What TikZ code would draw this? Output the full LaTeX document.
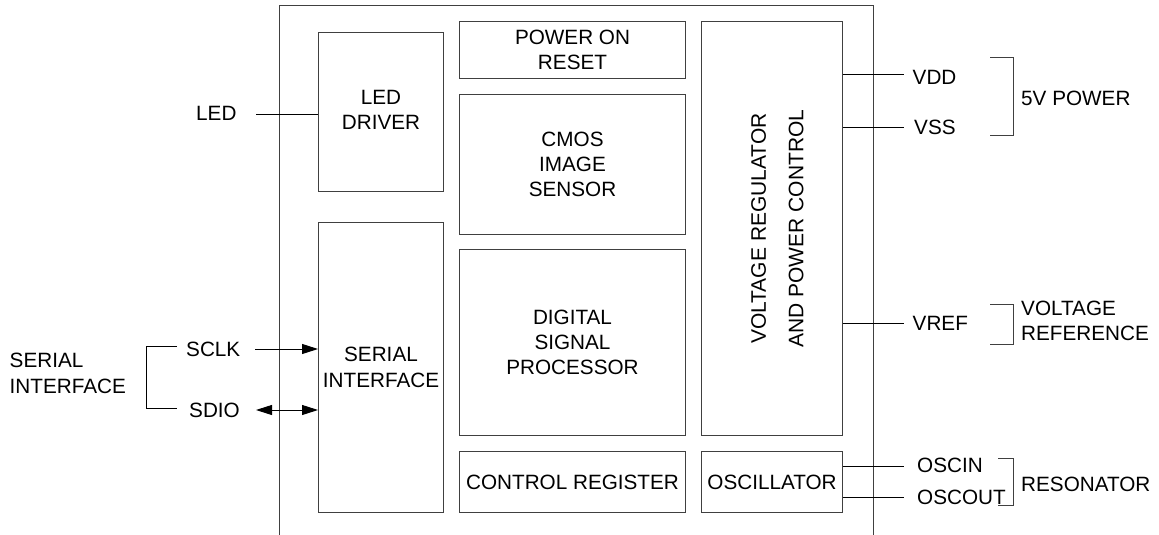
\documentclass[tikz,border=0pt]{standalone}
\usepackage{fontspec}
\setmainfont{Liberation Sans}
\usetikzlibrary{arrows.meta}
\tikzset{
  blockbox/.style={draw=black!75,line width=1pt,minimum width=#1,inner sep=0pt,align=center,font=\fontsize{20.7}{25.3}\selectfont},
  lbl/.style={inner sep=0pt,align=left,font=\fontsize{20.7}{25}\selectfont},
  wire/.style={draw=black,line width=1pt},
  brk/.style={draw=black!75,line width=1pt},
  arw/.style={-{Triangle[length=16pt,width=10pt]}},
  barw/.style={{Triangle[length=16pt,width=10pt]}-{Triangle[length=16pt,width=10pt]}}
}
\newcommand{\blk}[6]{\node[blockbox=#4pt-#2pt,minimum height=#5pt-#3pt,anchor=north west] (#1) at (#2,#3) {#6};}
\begin{document}
\begin{tikzpicture}[x=1pt,y=-1pt]
\useasboundingbox (0,0) rectangle (1159,535);
\coordinate (fa) at (279,535); \coordinate (fb) at (279,5.5);
\coordinate (fc) at (873,5.5); \coordinate (fd) at (873,535);
\draw[brk] (fa) -- (fb) -- (fc) -- (fd);
\blk{led}{318}{32}{443}{191}{}
\node[inner sep=0pt,align=center,font=\fontsize{20.7}{25}\selectfont] (ledt) at (381,109.5) {LED\\DRIVER};
\blk{ser}{318}{222}{443}{512}{SERIAL\\INTERFACE}
\blk{por}{459}{21}{685}{78}{POWER ON\\RESET}
\blk{cmos}{459}{94}{685}{234}{CMOS\\IMAGE\\SENSOR}
\blk{dsp}{459}{249}{685}{435}{DIGITAL\\SIGNAL\\PROCESSOR}
\blk{ctl}{459}{451}{685}{512}{CONTROL REGISTER}
\blk{vreg}{701}{21}{842}{435}{}
\blk{osc}{701}{451}{842}{512}{OSCILLATOR}
\node[rotate=90,align=center,inner sep=0pt,font=\fontsize{21}{37.5}\selectfont] (vregt) at (777.5,228.5) {VOLTAGE REGULATOR\\AND POWER CONTROL};
% labels
\node[lbl,anchor=west] (ledl) at (196,113) {LED};
\node[lbl,anchor=west] (sclk) at (186,349) {SCLK};
\node[lbl,anchor=west] (sdio) at (189,410) {SDIO};
\node[lbl,anchor=west] (serl) at (9.5,360) {SERIAL};
\node[lbl,anchor=west] (serl2) at (9.5,386) {INTERFACE};
\node[lbl,anchor=west] (vdd) at (912.5,77) {VDD};
\node[lbl,anchor=west] (vss) at (914,127) {VSS};
\node[lbl,anchor=west] (pw) at (1021,98) {5V POWER};
\node[lbl,anchor=west] (vref) at (912.5,323) {VREF};
\node[lbl,anchor=west] (vr1) at (1021,308) {VOLTAGE};
\node[lbl,anchor=west] (vr2) at (1021,333) {REFERENCE};
\node[lbl,anchor=west] (oscin) at (917,465) {OSCIN};
\node[lbl,anchor=west] (oscout) at (917,497) {OSCOUT};
\node[lbl,anchor=west] (res) at (1021,484) {RESONATOR};
% connectors
\draw[wire] ([xshift=60pt]ledl.west |- 0,114) -- (led.west |- 0,114);
\draw[wire,arw] ([xshift=69pt]sclk.west) -- (ser.west |- sclk.west);
\draw[wire,barw] ([xshift=67pt]sdio.west) -- (ser.west |- sdio.west);
\draw[wire] (vreg.east |- 0,75) -- ([xshift=-8.5pt]vdd.west |- 0,75);
\draw[wire] (vreg.east |- 0,127) -- ([xshift=-10pt]vss.west |- 0,127);
\draw[wire] (vreg.east |- 0,323) -- ([xshift=-8.5pt]vref.west);
\draw[wire] (osc.east |- 0,466) -- ([xshift=-13pt]oscin.west |- 0,466);
\draw[wire] (osc.east |- 0,497) -- ([xshift=-13pt]oscout.west);
% brackets
\coordinate (b1a) at (990,58); \coordinate (b1b) at (1013.5,58); \coordinate (b1c) at (1013.5,135); \coordinate (b1d) at (990,135);
\draw[brk] (b1a) -- (b1b) -- (b1c) -- (b1d);
\coordinate (b2a) at (990,304); \coordinate (b2b) at (1013.5,304); \coordinate (b2c) at (1013.5,344); \coordinate (b2d) at (990,344);
\draw[brk] (b2a) -- (b2b) -- (b2c) -- (b2d);
\coordinate (b3a) at (998,458.5); \coordinate (b3b) at (1013.5,458.5); \coordinate (b3c) at (1013.5,505); \coordinate (b3d) at (998,505);
\draw[brk] (b3a) -- (b3b) -- (b3c) -- (b3d);
\coordinate (b4a) at (177,346); \coordinate (b4b) at (146.5,346); \coordinate (b4c) at (146.5,408); \coordinate (b4d) at (177,408);
\draw[wire] (b4a) -- (b4b) -- (b4c) -- (b4d);
\end{tikzpicture}
\end{document}
